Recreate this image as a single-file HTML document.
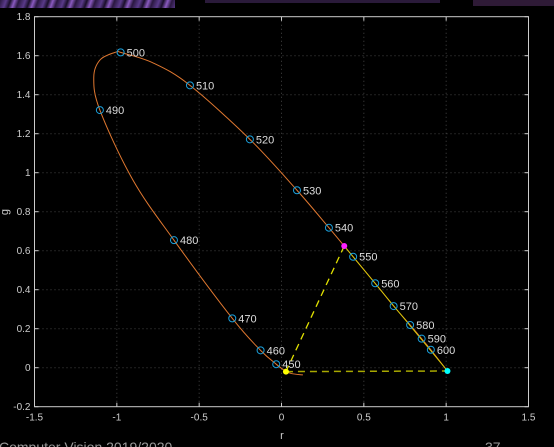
<!DOCTYPE html>
<html><head><meta charset="utf-8"><style>
html,body{margin:0;padding:0;background:#000;}
#wrap{position:relative;width:554px;height:447px;overflow:hidden;background:#000;font-family:"Liberation Sans",sans-serif;}
svg text{font-family:"Liberation Sans",sans-serif;}
</style></head><body>
<div id="wrap">
<div style="position:absolute;left:0;top:0;width:175px;height:8px;background:repeating-linear-gradient(110deg,#2a1840 0px,#5a3a8a 6px,#1a0f2a 10px,#8a5ac0 14px,#2a1840 18px);"></div>
<div style="position:absolute;left:205px;top:0;width:235px;height:3px;background:#2a1a3a;"></div>
<div style="position:absolute;left:473px;top:0;width:81px;height:6px;background:#2e1a36;"></div>
<svg id="svg" width="554" height="447" style="position:absolute;left:0;top:0"></svg>
</div>
<script>
const xTicks=[-1.5,-1,-0.5,0,0.5,1,1.5];
const xTickLabels=["-1.5","-1","-0.5","0","0.5","1","1.5"];
const yTicks=[-0.2,0,0.2,0.4,0.6,0.8,1,1.2,1.4,1.6,1.8];
const yTickLabels=["-0.2","0","0.2","0.4","0.6","0.8","1","1.2","1.4","1.6","1.8"];
const locusR=[0.13,0.06,0.02,-0.032,-0.127,-0.299,-0.653,-0.902,-1.103,-1.14,-1.1,-1.0,-0.977,-0.78,-0.556,-0.192,0.094,0.288,0.435,0.569,0.681,0.781,0.851,0.907,1.008];
const locusG=[-0.037,-0.03,-0.015,0.018,0.089,0.253,0.654,0.962,1.321,1.49,1.58,1.62,1.617,1.563,1.448,1.171,0.91,0.718,0.569,0.433,0.316,0.219,0.149,0.092,-0.017];
const markWl=[450,460,470,480,490,500,510,520,530,540,550,560,570,580,590,600];
const markR=[-0.032,-0.127,-0.299,-0.653,-1.103,-0.977,-0.556,-0.192,0.094,0.288,0.435,0.569,0.681,0.781,0.851,0.907];
const markG=[0.018,0.089,0.253,0.654,1.321,1.617,1.448,1.171,0.91,0.718,0.569,0.433,0.316,0.219,0.149,0.092];
const primR=[0.381,0.027,1.008];
const primG=[0.624,-0.02,-0.017];

const L=34.5,R=528.5,T=16.7,B=406.7;
const X=v=>L+(v+1.5)/3*(R-L);
const Y=v=>B-(v+0.2)/2*(B-T);
const svg=document.getElementById('svg');
const NS='http://www.w3.org/2000/svg';
function mk(t,a){const e=document.createElementNS(NS,t);for(const k in a)e.setAttribute(k,a[k]);svg.appendChild(e);return e;}

xTicks.forEach((v,i)=>{
  if(i>0&&i<xTicks.length-1){const g=mk('line',{x1:X(v),x2:X(v),y1:T,y2:B,stroke:'#444','stroke-dasharray':'1 3'});
  
  }
  const tk=mk('line',{x1:X(v),x2:X(v),y1:B,y2:B-4,stroke:'#ccc'});
  
  
  const tk2=mk('line',{x1:X(v),x2:X(v),y1:T,y2:T+4,stroke:'#ccc'});
  
  
  const t=mk('text',{x:X(v),y:B+14,fill:'#ccc','font-size':'10','text-anchor':'middle'});
  t.textContent=xTickLabels[i];
  
  
});
yTicks.forEach((v,i)=>{
  if(i>0&&i<yTicks.length-1){const g=mk('line',{x1:L,x2:R,y1:Y(v),y2:Y(v),stroke:'#444','stroke-dasharray':'1 3'});
  
  }
  const tk=mk('line',{x1:L,x2:L+4,y1:Y(v),y2:Y(v),stroke:'#ccc'});
  
  
  const tk2=mk('line',{x1:R,x2:R-4,y1:Y(v),y2:Y(v),stroke:'#ccc'});
  
  
  const t=mk('text',{x:L-4,y:Y(v)+3.5,fill:'#ccc','font-size':'10','text-anchor':'end'});
  t.textContent=yTickLabels[i];
  
  
});
const box=mk('rect',{x:L,y:T,width:R-L,height:B-T,fill:'none',stroke:'#ccc','stroke-width':1});



const P=locusR.map((r,i)=>[X(r),Y(locusG[i])]);
let d='M'+P[0][0]+','+P[0][1];
for(let i=0;i<P.length-1;i++){
  const p0=P[Math.max(0,i-1)],p1=P[i],p2=P[i+1],p3=P[Math.min(P.length-1,i+2)];
  d+=' C'+(p1[0]+(p2[0]-p0[0])/6)+','+(p1[1]+(p2[1]-p0[1])/6)+' '+(p2[0]-(p3[0]-p1[0])/6)+','+(p2[1]-(p3[1]-p1[1])/6)+' '+p2[0]+','+p2[1];
}
const loc=mk('path',{d:d,fill:'none',stroke:'#e07830','stroke-width':1});



const l1=mk('line',{x1:X(primR[0]),y1:Y(primG[0]),x2:X(primR[2]),y2:Y(primG[2]),stroke:'#d8d800','stroke-width':0.8});


const l2=mk('line',{x1:X(primR[0]),y1:Y(primG[0]),x2:X(primR[1]),y2:Y(primG[1]),stroke:'#e0e000','stroke-width':1.3,'stroke-dasharray':'7 5'});


const l3=mk('line',{x1:X(primR[1]),y1:Y(primG[1]),x2:X(primR[2]),y2:Y(primG[2]),stroke:'#a8a800','stroke-width':1.5,'stroke-dasharray':'7 5'});



markWl.forEach((w,i)=>{
  const c=mk('circle',{cx:X(markR[i]),cy:Y(markG[i]),r:3.5,fill:'none',stroke:'#1aa0dc','stroke-width':1});
  
  
  const t=mk('text',{x:X(markR[i])+6,y:Y(markG[i])+4,fill:'#ddd','font-size':'11'});
  t.textContent=w;
  
  
});
const cols=['#ff20ff','#ffff00','#00ffff'];
const pnames=['primary-green','primary-blue','primary-red'];
primR.forEach((r,i)=>{
  const c=mk('circle',{cx:X(r),cy:Y(primG[i]),r:3,fill:cols[i]});
  
  
});
const xl=mk('text',{x:282,y:439,fill:'#ccc','font-size':'11','text-anchor':'middle'});xl.textContent='r';


const yl=mk('text',{x:8,y:212,fill:'#ccc','font-size':'11','text-anchor':'middle',transform:'rotate(-90 8 212)'});yl.textContent='g';


const f1=mk('text',{x:-1,y:452,fill:'#9a9a9a','font-size':'14'});f1.textContent='Computer Vision 2019/2020';


const f2=mk('text',{x:485,y:452,fill:'#9a9a9a','font-size':'14'});f2.textContent='37';


</script>
</body></html>
